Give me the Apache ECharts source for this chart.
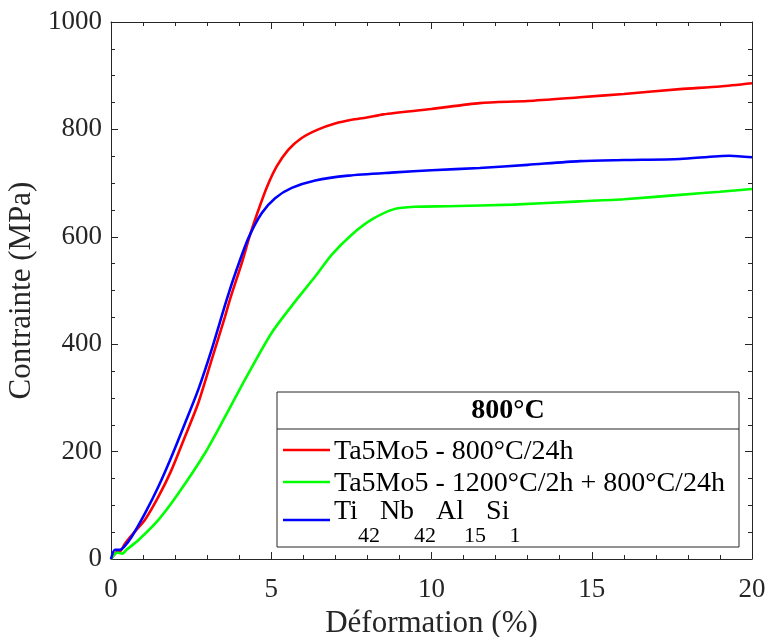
<!DOCTYPE html>
<html>
<head>
<meta charset="utf-8">
<script src="https://cdn.jsdelivr.net/npm/echarts@6/dist/echarts.min.js"></script>
<style>html,body{margin:0;padding:0;background:#fff;}#c{width:768px;height:637px;}</style>
</head>
<body>
<div id="c"></div>
<script>
var seriesNames = ['Ta5Mo5 - 800°C/24h', 'Ta5Mo5 - 1200°C/2h + 800°C/24h', 'Ti42Nb42Al15Si1'];
// third legend entry with subscripts: [text, isSubscript]
var blueLabelParts = [['Ti', 0], ['42', 1], ['Nb', 0], ['42', 1], ['Al', 0], ['15', 1], ['Si', 0], ['1', 1]];
var legendTitle = '800°C';
var xTitle = 'Déformation (%)';
var yTitle = 'Contrainte (MPa)';

var redData = [[0,0],[0.1,8],[0.2,14],[0.3,15],[0.44,29],[0.7,48],[1.06,73],[1.48,116],[1.89,166],[2.31,228],[2.72,290],[3.14,371],[3.56,452],[3.71,483],[4.08,551],[4.34,604],[4.6,650],[4.86,692],[5.17,731],[5.53,762],[5.95,784],[6.47,800],[6.99,811],[7.51,818],[7.98,822],[8.5,828],[10,838],[11.5,849],[13,853],[14.63,860],[16,866],[17.75,875],[19,880],[20,886]];
var greenData = [[0,0],[0.2,12],[0.35,10],[0.5,18],[0.85,35],[1.48,73],[2.1,122],[2.93,197],[3.56,265],[4.18,334],[5.01,421],[5.79,483],[6.37,526],[6.89,567],[7.51,604],[8.13,632],[8.86,652],[9.5,656],[10.5,657],[12.55,660],[14.63,666],[16,670],[17.75,678],[19,684],[20,689]];
var blueData = [[0,0],[0.12,17],[0.28,17],[0.4,22],[0.64,41],[1.06,85],[1.48,135],[1.89,191],[2.31,253],[2.72,315],[3.14,390],[3.61,483],[3.92,539],[4.29,598],[4.7,644],[5.12,672],[5.64,691],[6.37,705],[7.4,714],[8.86,720],[10,724],[11.5,728],[13,734],[14.63,741],[16,743],[17.75,745],[19.3,751],[20,748]];

var colors = ['#ff0000', '#00ff00', '#0000ff'];
var FONT = '"Liberation Serif", "Times New Roman", serif';
var TXT = '#262626';

var chart = echarts.init(document.getElementById('c'), null, {renderer: 'canvas'});

function axisCommon(pos, showLabel) {
  return {
    type: 'value', position: pos,
    axisLine: {show: true, onZero: false, lineStyle: {color: TXT, width: 1}},
    axisTick: {show: true, inside: true, length: 7, lineStyle: {color: TXT}},
    minorTick: {show: true, length: 4, lineStyle: {color: TXT}},
    splitLine: {show: false},
    axisLabel: {show: showLabel, color: TXT, fontFamily: FONT, fontSize: 27, formatter: function (v) { return String(v); }},
  };
}

var x0 = Object.assign(axisCommon('bottom', true), {min: 0, max: 20, interval: 5,
  name: xTitle, nameLocation: 'middle', nameGap: 45,
  nameTextStyle: {color: TXT, fontFamily: FONT, fontSize: 31}});
x0.minorTick.splitNumber = 5;
x0.axisLabel.margin = 17;
var x1 = Object.assign(axisCommon('top', false), {min: 0, max: 20, interval: 5});
x1.minorTick.splitNumber = 5;
var y0 = Object.assign(axisCommon('left', true), {min: 0, max: 1000, interval: 200,
  name: yTitle, nameLocation: 'middle', nameGap: 71,
  nameTextStyle: {color: TXT, fontFamily: FONT, fontSize: 31}});
y0.minorTick.splitNumber = 4;
y0.axisLabel.margin = 9;
var y1 = Object.assign(axisCommon('right', false), {min: 0, max: 1000, interval: 200});
y1.minorTick.splitNumber = 4;

function mkSeries(name, data, color) {
  return {name: name, type: 'line', data: data, xAxisIndex: 0, yAxisIndex: 0,
    showSymbol: false, smooth: 0.25, lineStyle: {color: color, width: 2.6},
    itemStyle: {color: color}, z: 3, animation: false};
}

var LX = 277, LY = 392, LW = 462, LH = 155;
var rowY = [450, 482, 520];
var MAIN = 28, SUB = 22;
var legendEls = [
  {type: 'rect', shape: {x: LX, y: LY, width: LW, height: LH}, style: {fill: '#fff', stroke: TXT, lineWidth: 1}, z: 10},
  {type: 'line', shape: {x1: LX, y1: 429, x2: LX + LW, y2: 429}, style: {stroke: TXT, lineWidth: 1}, z: 11},
  {type: 'text', x: LX + LW / 2, y: 411, style: {text: legendTitle, fontFamily: FONT, fontSize: 28, fontWeight: 'bold', fill: '#000', align: 'center', verticalAlign: 'middle'}, z: 11}
];
for (var i = 0; i < 3; i++) {
  legendEls.push({type: 'line', shape: {x1: 283, y1: rowY[i], x2: 330, y2: rowY[i]}, style: {stroke: colors[i], lineWidth: 2.6}, z: 11});
}
legendEls.push({type: 'text', x: 334, y: 452, style: {text: seriesNames[0], fontFamily: FONT, fontSize: MAIN, fill: '#000', align: 'left', verticalAlign: 'middle'}, z: 11});
legendEls.push({type: 'text', x: 334, y: 484, style: {text: seriesNames[1], fontFamily: FONT, fontSize: MAIN, fill: '#000', align: 'left', verticalAlign: 'middle'}, z: 11});

var mctx = document.createElement('canvas').getContext('2d');
function textW(t, size) { mctx.font = size + 'px ' + FONT; return mctx.measureText(t).width; }
var cx = 334;
blueLabelParts.forEach(function (p) {
  var size = p[1] ? SUB : MAIN;
  legendEls.push({type: 'text', x: cx, y: p[1] ? 536 : 511.5, style: {text: p[0], fontFamily: FONT, fontSize: size, fill: '#000', align: 'left', verticalAlign: 'middle'}, z: 11});
  cx += textW(p[0], size);
});

chart.setOption({
  animation: false,
  backgroundColor: '#fff',
  grid: {left: 111, right: 16, top: 22, bottom: 78, containLabel: false, outerBoundsMode: 'none'},
  xAxis: [x0, x1],
  yAxis: [y0, y1],
  series: [mkSeries(seriesNames[0], redData, colors[0]), mkSeries(seriesNames[1], greenData, colors[1]), mkSeries(seriesNames[2], blueData, colors[2])],
  graphic: {elements: legendEls}
});
</script>
</body>
</html>
